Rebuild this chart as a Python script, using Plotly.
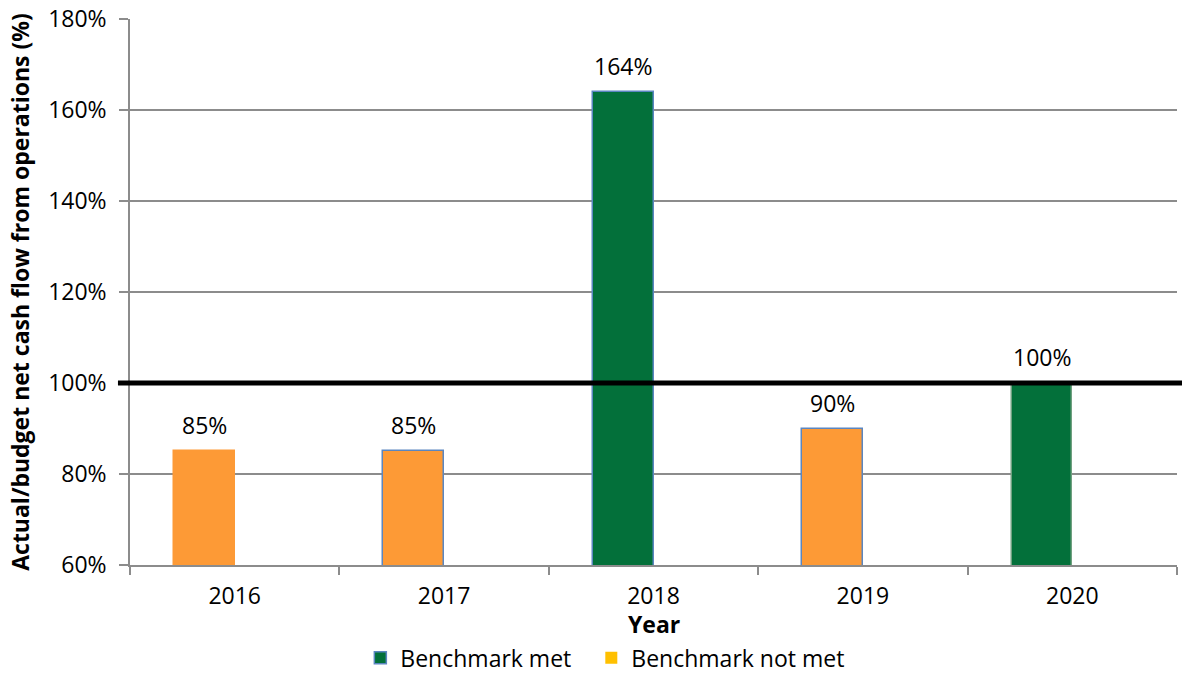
import plotly.graph_objects as go

years = ["2016", "2017", "2018", "2019", "2020"]
ratio_pct = [85, 85, 164, 90, 100]
met = [False, False, True, False, True]
benchmark_pct = 100

green = "#03703A"
orange = "#FD9A36"
legend_yellow = "#FFC000"
edge_blue = "#5B86C0"

bar_width = 0.29
bar_colors = [green if m else orange for m in met]
edge_colors = [orange, edge_blue, edge_blue, edge_blue, "#6FA07F"]

FONT = "Open Sans"
FS = 23

fig = go.Figure()

# actual/budget ratio per year, coloured by whether the benchmark was met
fig.add_trace(go.Bar(
    x=years,
    y=ratio_pct,
    base=0,
    width=bar_width,
    offset=-bar_width,
    marker=dict(color=bar_colors, line=dict(color=edge_colors, width=1.5)),
    showlegend=False,
    hoverinfo="x+y",
))

# legend swatches (one legend box each so their spacing can be set)
fig.add_trace(go.Bar(x=[None], y=[None], name="Benchmark met", legend="legend",
                     marker=dict(color=green, line=dict(color=edge_blue, width=1.5))))
fig.add_trace(go.Bar(x=[None], y=[None], name="Benchmark not met", legend="legend2",
                     marker=dict(color=legend_yellow, line=dict(width=0))))

# value labels above each bar
for i, (yr, v) in enumerate(zip(years, ratio_pct)):
    fig.add_annotation(
        x=i - bar_width / 2, y=v, xref="x", yref="y",
        text=f"{v}%", showarrow=False, yanchor="middle", yshift=26,
        font=dict(family=FONT, size=FS, color="#000000"),
    )

# x-axis title
fig.add_annotation(x=0.5, y=-0.108, xref="paper", yref="paper",
                   text="<b>Year</b>", showarrow=False, yanchor="middle",
                   font=dict(family=FONT, size=FS, color="#000000"))

# benchmark line
fig.add_shape(type="line", xref="paper", yref="y",
              x0=-0.0115, x1=1.01, y0=benchmark_pct, y1=benchmark_pct,
              line=dict(color="#000000", width=5), layer="above")

legend_common = dict(orientation="h", xanchor="left", xref="paper",
                     y=-0.17, yanchor="middle", yref="paper",
                     font=dict(family=FONT, size=FS), bgcolor="rgba(0,0,0,0)")

fig.update_layout(
    width=1182, height=673,
    margin=dict(l=130, r=5, t=19, b=108, autoexpand=False),
    paper_bgcolor="white", plot_bgcolor="white",
    font=dict(family=FONT, size=FS, color="#000000"),
    bargap=0,
    legend=dict(x=0.22, **legend_common),
    legend2=dict(x=0.4406, **legend_common),
    xaxis=dict(
        type="category", categoryorder="array", categoryarray=years,
        range=[-0.5, 4.5], automargin=False,
        showline=True, linecolor="#8C8C8C", linewidth=1.5,
        ticks="outside", tickson="boundaries", ticklen=8, tickcolor="#8C8C8C", tickwidth=1.5,
        tickfont=dict(family=FONT, size=FS), ticklabelstandoff=10,
        showgrid=False,
    ),
    yaxis=dict(
        range=[60, 180], dtick=20, ticksuffix="%",
        showline=True, linecolor="#8C8C8C", linewidth=1.5,
        ticks="outside", ticklen=9, tickcolor="#8C8C8C", tickwidth=1.5,
        showgrid=True, gridcolor="#8C8C8C", gridwidth=1.5,
        zeroline=False, automargin=False,
        tickfont=dict(family=FONT, size=FS), ticklabelstandoff=8,
        title=dict(text="<b>Actual/budget net cash flow from operations (%)</b>",
                   standoff=12, font=dict(family=FONT, size=FS)),
    ),
)

fig.write_html("out.html")
